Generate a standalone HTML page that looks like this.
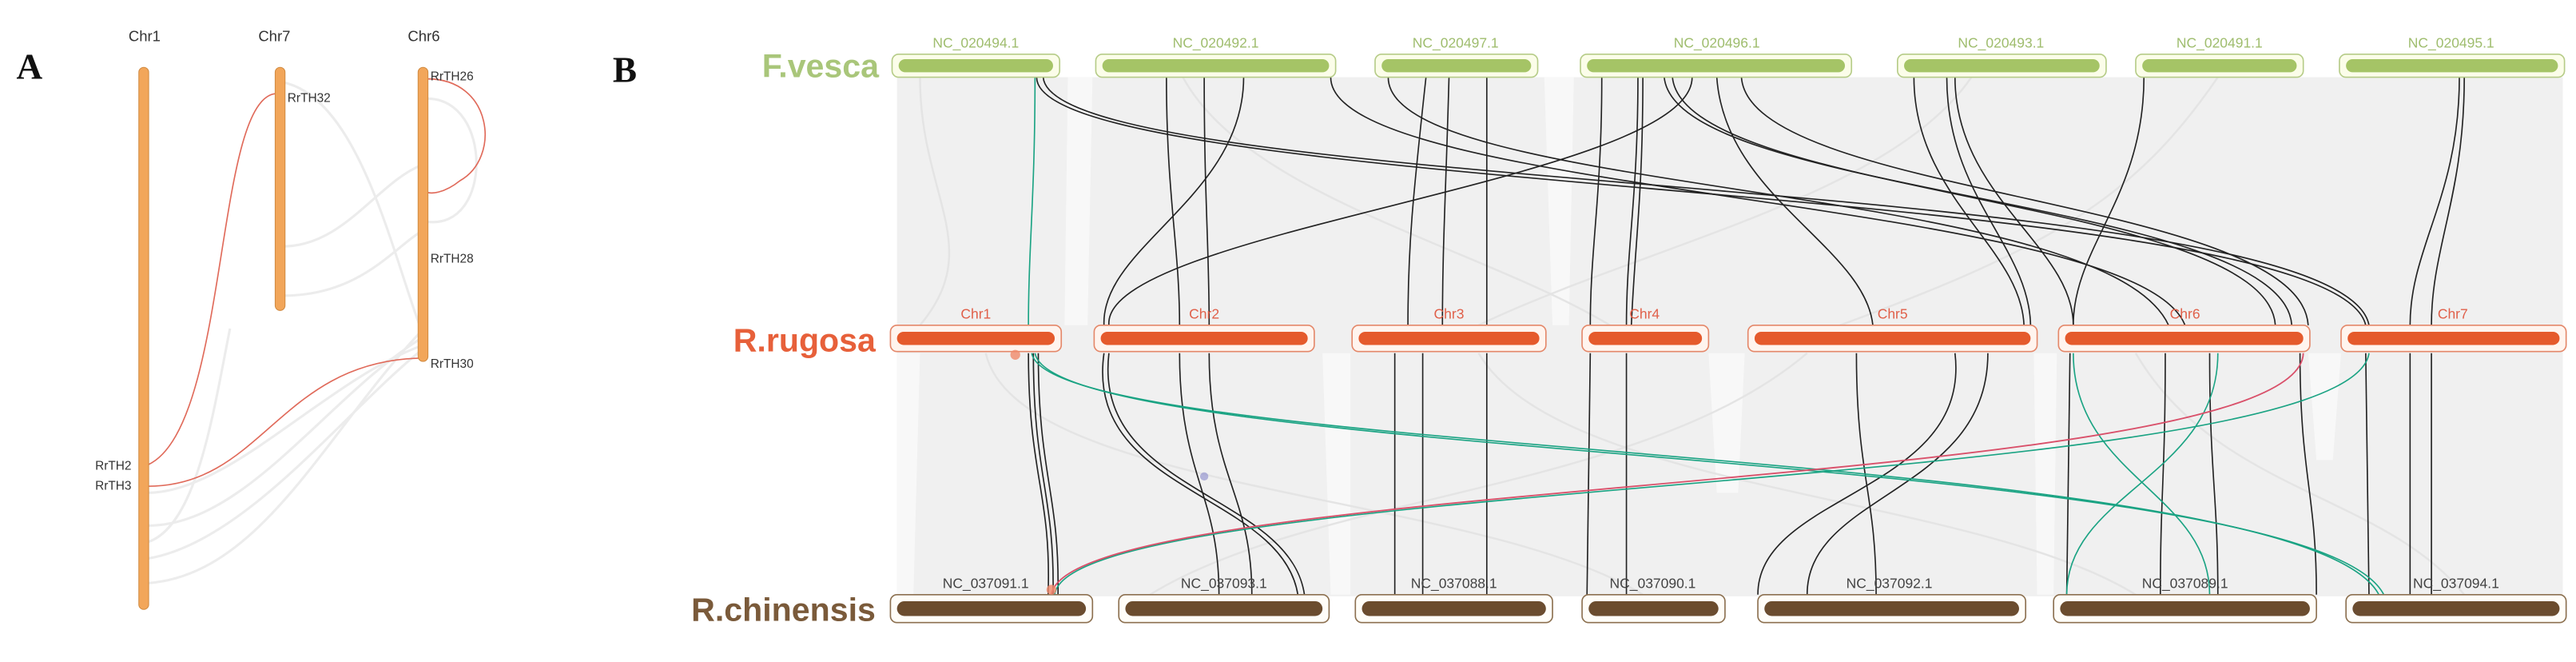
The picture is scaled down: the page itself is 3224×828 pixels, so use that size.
<!DOCTYPE html>
<html><head><meta charset="utf-8"><style>
html,body{margin:0;padding:0;background:#fff;}
svg{display:block;}
text{font-family:"Liberation Sans",Arial,sans-serif;}
text.serif{font-family:"Liberation Serif","Times New Roman",serif;}
</style></head><body>
<svg width="3224" height="828" viewBox="0 0 1568 403" preserveAspectRatio="none" xmlns="http://www.w3.org/2000/svg">
<!-- Panel A -->
<text class="serif" x="10" y="48" font-weight="bold" font-size="22" fill="#111">A</text>
<g font-size="9" fill="#333" text-anchor="middle">
<text x="88" y="25">Chr1</text><text x="167" y="25">Chr7</text><text x="258" y="25">Chr6</text>
</g>
<g fill="none" stroke="#ececec" stroke-width="1.5">
<path d="M90 300 C140 300,200 230,258 210"/>
<path d="M90 320 C150 320,200 240,258 205"/>
<path d="M90 340 C150 330,210 250,258 212"/>
<path d="M90 355 C160 350,200 260,258 200"/>
<path d="M172 50 C220 60,240 160,258 205"/>
<path d="M172 150 C210 150,230 110,258 100"/>
<path d="M172 180 C220 180,240 150,258 140"/>
<path d="M260 60 C300 60,300 140,260 135"/>
<path d="M90 330 C120 320,130 250,140 200"/>
</g>
<g fill="none" stroke="#e06a5a" stroke-width="0.8">
<path d="M90 283 C140 260,130 60,168 57"/>
<path d="M90 296 C160 296,170 220,256 218"/>
<path d="M260 48 C300 48,305 96,280 110 C270 118,262 118,260 117"/>
</g>
<g fill="#f2a65a" stroke="#d08a40" stroke-width="0.5">
<rect x="84.5" y="41" width="6" height="330" rx="3"/>
<rect x="167.5" y="41" width="6" height="148" rx="3"/>
<rect x="254.5" y="41" width="6" height="179" rx="3"/>
</g>
<g font-size="7.5" fill="#333">
<text x="175" y="62">RrTH32</text>
<text x="262" y="49">RrTH26</text>
<text x="262" y="160">RrTH28</text>
<text x="262" y="224">RrTH30</text>
<text x="80" y="286" text-anchor="end">RrTH2</text>
<text x="80" y="298" text-anchor="end">RrTH3</text>
</g>

<!-- Panel B -->
<text class="serif" x="373" y="50" font-weight="bold" font-size="22" fill="#111">B</text>
<rect x="546" y="47" width="1014" height="316" fill="#f0f0f0"/>
<g fill="#f8f8f8">
<path d="M650 47 L665 47 L662 198 L648 198 Z"/>
<path d="M940 47 L958 47 L955 198 L945 198 Z"/>
<path d="M1040 215 L1062 215 L1058 300 L1045 300 Z"/>
<path d="M1405 215 L1425 215 L1420 280 L1410 280 Z"/>
<path d="M546 215 L560 215 L556 362 L546 362 Z"/>
<path d="M805 215 L822 215 L822 362 L810 362 Z"/>
<path d="M1238 215 L1252 215 L1250 362 L1240 362 Z"/>
</g>
<g fill="none" stroke="#e4e4e4" stroke-width="1.2">
<path d="M560 47 C560 120,600 150,560 198"/><path d="M720 47 C760 120,900 150,980 198"/>
<path d="M1200 47 C1150 120,1000 150,900 198"/><path d="M1350 47 C1300 120,1250 150,1120 198"/>
<path d="M600 215 C620 300,900 300,1000 362"/><path d="M1100 215 C1000 300,800 300,700 362"/>
<path d="M1300 215 C1350 300,1450 300,1500 362"/><path d="M900 215 C950 300,1200 300,1300 362"/>
</g>
<g font-weight="bold" font-size="20" text-anchor="end">
<text x="535" y="47" fill="#a9c67a">F.vesca</text>
<text x="533" y="214" fill="#e7603a">R.rugosa</text>
<text x="533" y="378" fill="#7a5a3a">R.chinensis</text>
</g>
<g fill="none" stroke="#222" stroke-width="0.8">
<path d="M631 47 C631 120,1420 110,1440 198"/>
<path d="M635 47 C640 120,1425 105,1442 198"/>
<path d="M710 47 C710 120,718 150,718 198"/>
<path d="M733 47 C733 120,736 150,736 198"/>
<path d="M757 47 C757 120,670 150,672 198"/>
<path d="M810 47 C810 120,1300 120,1330 198"/>
<path d="M845 47 C845 120,1280 110,1320 198"/>
<path d="M868 47 C860 120,857 150,857 198"/>
<path d="M882 47 C880 120,878 150,878 198"/>
<path d="M905 47 C905 120,905 150,905 198"/>
<path d="M975 47 C975 120,968 150,968 198"/>
<path d="M997 47 C997 120,990 150,990 198"/>
<path d="M1000 47 C1000 120,995 150,993 198"/>
<path d="M1030 47 C1030 110,670 140,675 198"/>
<path d="M1013 47 C1020 120,1390 120,1395 198"/>
<path d="M1018 47 C1025 120,1380 120,1385 198"/>
<path d="M1045 47 C1050 120,1135 150,1140 198"/>
<path d="M1060 47 C1065 120,1400 120,1405 198"/>
<path d="M1165 47 C1165 120,1230 150,1232 198"/>
<path d="M1185 47 C1185 120,1235 150,1236 198"/>
<path d="M1190 47 C1190 120,1262 150,1262 198"/>
<path d="M1305 47 C1305 120,1262 150,1262 198"/>
<path d="M1497 47 C1497 120,1467 150,1467 198"/>
<path d="M1500 47 C1500 120,1480 150,1480 198"/>
</g>
<g fill="none" stroke="#222" stroke-width="0.8">
<path d="M626 215 C626 290,640 300,638 362"/>
<path d="M629 215 C629 290,642 300,641 362"/>
<path d="M632 215 C632 290,645 300,644 362"/>
<path d="M672 215 C660 300,780 300,790 362"/>
<path d="M675 215 C665 300,785 300,794 362"/>
<path d="M718 215 C718 290,742 300,742 362"/>
<path d="M736 215 C736 290,762 300,762 362"/>
<path d="M849 215 L849 362"/><path d="M866 215 L866 362"/><path d="M905 215 L905 362"/>
<path d="M968 215 L966 362"/><path d="M990 215 L990 362"/>
<path d="M1130 215 C1130 290,1142 300,1142 362"/>
<path d="M1190 215 C1200 300,1070 300,1070 362"/>
<path d="M1210 215 C1210 300,1100 300,1100 362"/>
<path d="M1260 215 L1258 362"/>
<path d="M1318 215 C1318 290,1315 300,1315 362"/>
<path d="M1345 215 C1345 290,1350 300,1350 362"/>
<path d="M1400 215 C1400 290,1410 300,1410 362"/>
<path d="M1440 215 L1442 362"/><path d="M1467 215 L1467 362"/><path d="M1480 215 L1480 362"/>
</g>
<g fill="none" stroke="#1aa383" stroke-width="0.8">
<path d="M630 47 C630 120,626 150,626 198"/>
<path d="M628 215 C640 280,1400 270,1448 362"/>
<path d="M630 215 C642 282,1405 272,1451 362"/>
<path d="M1442 215 C1430 300,650 290,642 362"/>
<path d="M1262 215 C1262 290,1345 300,1345 362"/>
<path d="M1350 215 C1350 290,1258 300,1258 362"/>
</g>
<path d="M640 362 C650 290,1400 300,1402 215" fill="none" stroke="#d9506a" stroke-width="0.9"/>
<g stroke-width="0.8">
<g fill="#fbfde9" stroke="#b6cc88">
<rect x="543" y="33" width="102" height="14" rx="4"/>
<rect x="667" y="33" width="146" height="14" rx="4"/>
<rect x="837" y="33" width="99" height="14" rx="4"/>
<rect x="962" y="33" width="165" height="14" rx="4"/>
<rect x="1155" y="33" width="127" height="14" rx="4"/>
<rect x="1300" y="33" width="102" height="14" rx="4"/>
<rect x="1424" y="33" width="137" height="14" rx="4"/>
</g>
<g fill="#a5c466">
<rect x="547" y="36" width="94" height="8" rx="4"/>
<rect x="671" y="36" width="138" height="8" rx="4"/>
<rect x="841" y="36" width="91" height="8" rx="4"/>
<rect x="966" y="36" width="157" height="8" rx="4"/>
<rect x="1159" y="36" width="119" height="8" rx="4"/>
<rect x="1304" y="36" width="94" height="8" rx="4"/>
<rect x="1428" y="36" width="129" height="8" rx="4"/>
</g>
<g fill="#fff4ee" stroke="#e4886a">
<rect x="542" y="198" width="104" height="16" rx="4"/>
<rect x="666" y="198" width="134" height="16" rx="4"/>
<rect x="823" y="198" width="118" height="16" rx="4"/>
<rect x="963" y="198" width="77" height="16" rx="4"/>
<rect x="1064" y="198" width="176" height="16" rx="4"/>
<rect x="1253" y="198" width="153" height="16" rx="4"/>
<rect x="1425" y="198" width="137" height="16" rx="4"/>
</g>
<g fill="#e55a2c">
<rect x="546" y="202" width="96" height="8" rx="4"/>
<rect x="670" y="202" width="126" height="8" rx="4"/>
<rect x="827" y="202" width="110" height="8" rx="4"/>
<rect x="967" y="202" width="69" height="8" rx="4"/>
<rect x="1068" y="202" width="168" height="8" rx="4"/>
<rect x="1257" y="202" width="145" height="8" rx="4"/>
<rect x="1429" y="202" width="129" height="8" rx="4"/>
</g>
<g fill="#fffdf8" stroke="#8c7050">
<rect x="542" y="362" width="123" height="17" rx="4"/>
<rect x="681" y="362" width="128" height="17" rx="4"/>
<rect x="825" y="362" width="120" height="17" rx="4"/>
<rect x="963" y="362" width="87" height="17" rx="4"/>
<rect x="1070" y="362" width="163" height="17" rx="4"/>
<rect x="1250" y="362" width="160" height="17" rx="4"/>
<rect x="1428" y="362" width="134" height="17" rx="4"/>
</g>
<g fill="#6b4c2e">
<rect x="546" y="366" width="115" height="9" rx="4.5"/>
<rect x="685" y="366" width="120" height="9" rx="4.5"/>
<rect x="829" y="366" width="112" height="9" rx="4.5"/>
<rect x="967" y="366" width="79" height="9" rx="4.5"/>
<rect x="1074" y="366" width="155" height="9" rx="4.5"/>
<rect x="1254" y="366" width="152" height="9" rx="4.5"/>
<rect x="1432" y="366" width="126" height="9" rx="4.5"/>
</g>
</g>
<circle cx="618" cy="216" r="3" fill="#f08a6a" opacity="0.8"/>
<circle cx="640" cy="359" r="3" fill="#f08a6a" opacity="0.8"/>
<circle cx="733" cy="290" r="2.5" fill="#8888cc" opacity="0.6"/>
<g font-size="8.5" text-anchor="middle">
<g fill="#9fbd6e">
<text x="594" y="29">NC_020494.1</text><text x="740" y="29">NC_020492.1</text><text x="886" y="29">NC_020497.1</text>
<text x="1045" y="29">NC_020496.1</text><text x="1218" y="29">NC_020493.1</text><text x="1351" y="29">NC_020491.1</text>
<text x="1492" y="29">NC_020495.1</text>
</g>
<g fill="#e0604a">
<text x="594" y="194">Chr1</text><text x="733" y="194">Chr2</text><text x="882" y="194">Chr3</text>
<text x="1001" y="194">Chr4</text><text x="1152" y="194">Chr5</text><text x="1330" y="194">Chr6</text>
<text x="1493" y="194">Chr7</text>
</g>
<g fill="#444">
<text x="600" y="358">NC_037091.1</text><text x="745" y="358">NC_037093.1</text><text x="885" y="358">NC_037088.1</text>
<text x="1006" y="358">NC_037090.1</text><text x="1150" y="358">NC_037092.1</text><text x="1330" y="358">NC_037089.1</text>
<text x="1495" y="358">NC_037094.1</text>
</g>
</g>
</svg>
</body></html>
